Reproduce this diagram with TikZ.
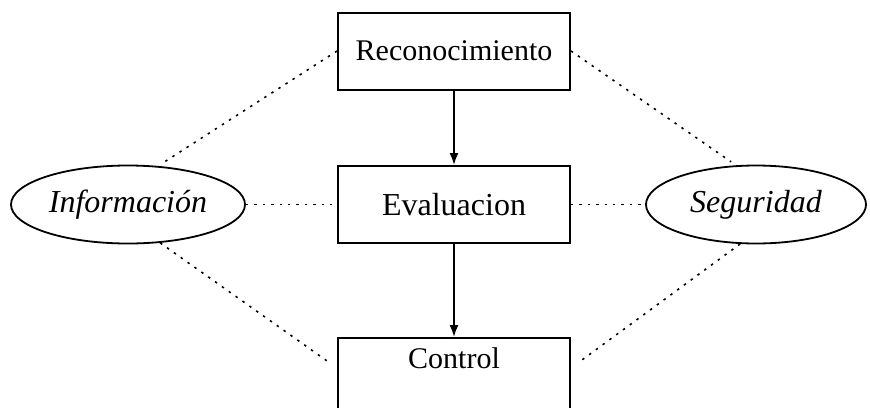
\documentclass[tikz,border=0pt]{standalone}
\usepackage{fontspec}
\setmainfont{Liberation Serif}
\usetikzlibrary{positioning, calc}
\usetikzlibrary{shapes,arrows.meta}
\tikzstyle{block} = [rectangle, draw, line width=1pt, text centered,
    minimum width=116pt, minimum height=38.5pt]
\tikzstyle{oval} = [ellipse, draw, line width=0.9pt, inner sep=0pt,
    minimum height=39pt, font=\fontsize{16}{19}\selectfont\itshape]
\tikzstyle{line} = [draw, line width=0.9pt, -{Latex[length=6pt, width=4.5pt]}]
\tikzstyle{link} = [draw, line width=0.8pt, dash pattern=on 1.2pt off 3pt]

\begin{document}
\begin{tikzpicture}[node distance = 2.5cm, auto]
    \useasboundingbox (0,0) rectangle (435pt,-203.5pt);
    \clip (0,0) rectangle (435pt,-203.5pt);
   % Place nodes
    \node [block, font=\fontsize{15}{18}\selectfont] (recon) at (227pt,-25.5pt) {Reconocimiento};
    \node [block, below of=recon, node distance = 76.75pt,
      font=\fontsize{16}{19}\selectfont] (eval) {Evaluacion};
    \node [block, below of=eval, node distance = 87.25pt, inner ysep=3pt,
      text height=12pt, text depth=23pt, font=\fontsize{15}{18}\selectfont] (ctrl) {Control};
    \node [oval, left of=eval, node distance = 163pt, minimum width=117pt] (info) {Información};
    \node [oval, right of=eval, node distance = 151pt, minimum width=110pt] (seg) {Seguridad};
   % Draw edges
    \path [line] (recon) -- (eval);
    \path [line] (eval) -- (ctrl);
    \path [link, shorten >=3pt] (recon.west) -- (info.52);
    \path [link, shorten >=3pt] (recon.east) -- (seg.117);
    \path [link] (info.east) -- (eval.west);
    \path [link] (eval.east) -- (seg.west);
    \path [link, shorten >=5pt] (info.-50) -- (ctrl.base west);
    \path [link, shorten >=5pt] (seg.248) -- (ctrl.base east);
  \end{tikzpicture}
\end{document}
